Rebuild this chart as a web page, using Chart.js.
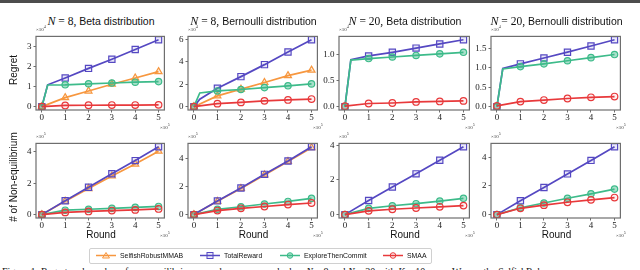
<!DOCTYPE html>
<html>
<head>
<meta charset="utf-8">
<script src="https://cdn.jsdelivr.net/npm/chart.js@4.4.1/dist/chart.umd.min.js"></script>
<style>
  body { margin: 0; width: 640px; height: 270px; background: #fff; position: relative; overflow: hidden; font-family: "Liberation Sans", sans-serif; }
  .topbar { position: absolute; left: 0; top: 0; width: 640px; height: 3px; background: #4d4d4d; }
  .panel { position: absolute; }
  .title { position: absolute; font-size: 10.5px; white-space: nowrap; transform: translateX(-50%); color: #111; }
  .title i { font-family: "Liberation Serif", serif; font-size: 12px; }
  .title .m { font-family: "Liberation Serif", serif; font-size: 11.5px; }
  .ylab { position: absolute; font-size: 10px; white-space: nowrap; transform: translate(-50%, -50%) rotate(-90deg); color: #111; }
  .xlab { position: absolute; font-size: 10px; line-height: 12px; transform: translateX(-50%); color: #111; }
  .mult { position: absolute; font-family: "Liberation Serif", serif; font-size: 5px; color: #333; white-space: nowrap; }
  .legend { position: absolute; left: 89px; top: 248px; width: 341px; height: 14px; border: 1px solid #d0d0d0; border-radius: 2px; font-size: 8px; color: #111; }
  .legend span.item { position: absolute; top: 2px; white-space: nowrap; }
  .legend span.txt { display: inline-block; transform: scaleX(0.86); transform-origin: left center; }
  .legend svg { vertical-align: middle; margin-right: 4px; }
  .caption { position: absolute; left: 2px; top: 266px; font-family: "Liberation Serif", serif; font-size: 10px; line-height: 12px; white-space: nowrap; color: #111; }
</style>
</head>
<body>
<div class="topbar"></div>

<script>
// x positions (x 10^5 rounds); the second array has the end of the exploration phase
const rounds = [0, 1, 2, 3, 4, 5];
const roundsKink = [0, 0.25, 1, 2, 3, 4, 5];
const xTicks = [0, 1, 2, 3, 4, 5];

const seriesNames = ['SelfishRobustMMAB', 'TotalReward', 'ExploreThenCommit', 'SMAA'];

// Regret, N = 8, Beta
const regretN8BetaSelfish = [0, 0.45, 0.78, 1.12, 1.43, 1.75];
const regretN8BetaTotal   = [0, 1.09, 1.43, 1.91, 2.37, 2.85, 3.34];
const regretN8BetaEtc     = [0, 1.08, 1.09, 1.14, 1.18, 1.22, 1.25];
const regretN8BetaSmaa    = [0, 0.06, 0.07, 0.08, 0.08, 0.09];
// Regret, N = 8, Bernoulli
const regretN8BernSelfish = [0, 0.96, 1.56, 2.16, 2.77, 3.26];
const regretN8BernTotal   = [0, 0.66, 1.64, 2.68, 3.75, 4.88, 5.97];
const regretN8BernEtc     = [0, 1.22, 1.40, 1.53, 1.70, 1.86, 2.03];
const regretN8BernSmaa    = [0, 0.27, 0.38, 0.52, 0.60, 0.68];
// Regret, N = 20, Beta
const regretN20BetaTotal  = [0, 0.90, 0.97, 1.04, 1.12, 1.20, 1.28];
const regretN20BetaEtc    = [0, 0.89, 0.92, 0.95, 0.98, 1.01, 1.04];
const regretN20BetaSmaa   = [0.01, 0.06, 0.07, 0.09, 0.10, 0.11];
// Regret, N = 20, Bernoulli
const regretN20BernTotal  = [0, 0.98, 1.10, 1.25, 1.40, 1.56, 1.72];
const regretN20BernEtc    = [0, 0.97, 1.03, 1.10, 1.18, 1.26, 1.34];
const regretN20BernSmaa   = [0.02, 0.13, 0.17, 0.21, 0.24, 0.26];

// Non-equilibrium rounds
const neqN8BetaSelfish = [0, 0.85, 1.66, 2.46, 3.22, 4.04];
const neqN8BetaTotal   = [0, 0.88, 1.74, 2.60, 3.44, 4.32];
const neqN8BetaEtc     = [0, 0.28, 0.34, 0.40, 0.46, 0.52];
const neqN8BetaSmaa    = [0, 0.14, 0.20, 0.26, 0.30, 0.36];
const neqN8BernSelfish = [0, 0.95, 1.87, 2.84, 3.80, 4.78];
const neqN8BernTotal   = [0, 0.98, 1.90, 2.88, 3.84, 4.85];
const neqN8BernEtc     = [0, 0.38, 0.56, 0.76, 0.94, 1.16];
const neqN8BernSmaa    = [0, 0.29, 0.45, 0.58, 0.72, 0.83];
const neqN20BetaTotal  = [0, 0.81, 1.59, 2.35, 3.13, 3.91];
const neqN20BetaEtc    = [0, 0.36, 0.51, 0.63, 0.78, 0.94];
const neqN20BetaSmaa   = [0, 0.22, 0.31, 0.38, 0.45, 0.52];
const neqN20BernTotal  = [0, 0.97, 1.89, 2.84, 3.78, 4.73];
const neqN20BernEtc    = [0, 0.48, 0.81, 1.14, 1.45, 1.78];
const neqN20BernSmaa   = [0, 0.44, 0.66, 0.86, 1.03, 1.19];

// y tick values per panel
const yTicksN8Beta   = [0, 1, 2, 3];
const yTicksN8Bern   = [0, 2, 4, 6];
const yTicksN20Beta  = [0, 0.5, 1.0];
const yTicksN20Bern  = [0, 0.5, 1.0, 1.5];
const yTicksNeq      = [0, 2, 4];

const styles = {
  SelfishRobustMMAB: { color: '#F7973F', fill: 'rgba(247,151,63,0.15)', point: 'triangle', r: 4, order: 3 },
  TotalReward:       { color: '#5548C2', fill: 'rgba(85,72,194,0.12)', point: 'rect', r: 4.4, order: 2 },
  ExploreThenCommit: { color: '#3DBB8A', fill: 'rgba(61,187,138,0.45)', point: 'circle', r: 3.2, order: 1 },
  SMAA:              { color: '#E8393B', fill: 'rgba(232,57,59,0.08)', point: 'circle', r: 3.3, order: 0 }
};

const cols = [[36, 166], [188, 319], [339, 471], [491, 622]];
const rowsY = [[31, 110], [138, 218]];

const panels = [
  { row: 0, col: 0, n: 8, dist: 'Beta', yTicks: yTicksN8Beta, dec: 0, series: [
    ['SelfishRobustMMAB', rounds, regretN8BetaSelfish], ['TotalReward', roundsKink, regretN8BetaTotal],
    ['ExploreThenCommit', roundsKink, regretN8BetaEtc], ['SMAA', rounds, regretN8BetaSmaa]] },
  { row: 0, col: 1, n: 8, dist: 'Bernoulli', yTicks: yTicksN8Bern, dec: 0, series: [
    ['SelfishRobustMMAB', rounds, regretN8BernSelfish], ['TotalReward', roundsKink, regretN8BernTotal],
    ['ExploreThenCommit', roundsKink, regretN8BernEtc], ['SMAA', rounds, regretN8BernSmaa]] },
  { row: 0, col: 2, n: 20, dist: 'Beta', yTicks: yTicksN20Beta, dec: 1, series: [
    ['TotalReward', roundsKink, regretN20BetaTotal], ['ExploreThenCommit', roundsKink, regretN20BetaEtc],
    ['SMAA', rounds, regretN20BetaSmaa]] },
  { row: 0, col: 3, n: 20, dist: 'Bernoulli', yTicks: yTicksN20Bern, dec: 1, series: [
    ['TotalReward', roundsKink, regretN20BernTotal], ['ExploreThenCommit', roundsKink, regretN20BernEtc],
    ['SMAA', rounds, regretN20BernSmaa]] },
  { row: 1, col: 0, yTicks: yTicksNeq, dec: 0, series: [
    ['SelfishRobustMMAB', rounds, neqN8BetaSelfish], ['TotalReward', rounds, neqN8BetaTotal],
    ['ExploreThenCommit', rounds, neqN8BetaEtc], ['SMAA', rounds, neqN8BetaSmaa]] },
  { row: 1, col: 1, yTicks: yTicksNeq, dec: 0, series: [
    ['SelfishRobustMMAB', rounds, neqN8BernSelfish], ['TotalReward', rounds, neqN8BernTotal],
    ['ExploreThenCommit', rounds, neqN8BernEtc], ['SMAA', rounds, neqN8BernSmaa]] },
  { row: 1, col: 2, yTicks: yTicksNeq, dec: 0, series: [
    ['TotalReward', rounds, neqN20BetaTotal], ['ExploreThenCommit', rounds, neqN20BetaEtc],
    ['SMAA', rounds, neqN20BetaSmaa]] },
  { row: 1, col: 3, yTicks: yTicksNeq, dec: 0, series: [
    ['TotalReward', rounds, neqN20BernTotal], ['ExploreThenCommit', rounds, neqN20BernEtc],
    ['SMAA', rounds, neqN20BernSmaa]] }
];

const frame = {
  id: 'frame',
  afterDraw(chart) {
    const a = chart.chartArea, ctx = chart.ctx;
    ctx.save();
    ctx.strokeStyle = '#6e6e6e';
    ctx.lineWidth = 1.2;
    ctx.strokeRect(a.left, a.top, a.right - a.left, a.bottom - a.top);
    ctx.restore();
  }
};

const AXW = 30, PADT = 2, PADR = 4, AXH = 16;

function addDiv(cls, html, x, y) {
  const d = document.createElement('div');
  d.className = cls;
  d.innerHTML = html;
  d.style.left = x + 'px';
  d.style.top = y + 'px';
  document.body.appendChild(d);
  return d;
}

panels.forEach(p => {
  const [pl, pr] = cols[p.col];
  const [pt, pb] = rowsY[p.row];
  const W = pr - pl + AXW + PADR, H = pb - pt + PADT + AXH;
  const wrap = document.createElement('div');
  wrap.className = 'panel';
  wrap.style.left = (pl - AXW) + 'px';
  wrap.style.top = (pt - PADT) + 'px';
  const cv = document.createElement('canvas');
  cv.width = W; cv.height = H;
  cv.style.width = W + 'px'; cv.style.height = H + 'px';
  wrap.appendChild(cv);
  document.body.appendChild(wrap);

  const all = p.series.flatMap(s => s[2]);
  const lo = Math.min(...all), hi = Math.max(...all), span = hi - lo;

  const datasets = p.series.map(([name, xs, ys]) => {
    const st = styles[name];
    return {
      label: name,
      data: ys.map((y, i) => ({ x: xs[i], y })),
      borderColor: st.color,
      backgroundColor: st.fill,
      borderWidth: 1.7,
      pointStyle: st.point,
      pointRadius: xs.map(x => Number.isInteger(x) ? st.r : 0),
      pointBorderWidth: 1.2,
      pointBorderColor: st.color,
      pointBackgroundColor: st.fill,
      tension: 0,
      fill: false,
      order: st.order
    };
  });

  new Chart(cv, {
    type: 'line',
    data: { datasets },
    options: {
      responsive: false,
      animation: false,
      devicePixelRatio: 1,
      layout: { padding: { top: PADT, right: PADR, left: 0, bottom: 0 } },
      plugins: { legend: { display: false }, tooltip: { enabled: false } },
      scales: {
        x: {
          type: 'linear', min: -0.25, max: 5.25,
          afterBuildTicks: s => { s.ticks = xTicks.map(v => ({ value: v })); },
          afterFit: s => { s.height = AXH; },
          grid: { drawOnChartArea: false, drawTicks: true, tickLength: 2.5, color: '#6e6e6e' },
          border: { display: false },
          ticks: { font: { family: 'Liberation Serif', size: 9 }, color: '#222', padding: 0, maxRotation: 0 }
        },
        y: {
          type: 'linear', min: lo - 0.05 * span, max: hi + 0.05 * span,
          afterBuildTicks: s => { s.ticks = p.yTicks.map(v => ({ value: v })); },
          afterFit: s => { s.width = AXW; },
          grid: { drawOnChartArea: false, drawTicks: true, tickLength: 2.5, color: '#6e6e6e' },
          border: { display: false },
          ticks: { font: { family: 'Liberation Serif', size: 9 }, color: '#222', padding: 2,
                   callback: v => v.toFixed(p.dec) }
        }
      }
    },
    plugins: [frame]
  });

  const cx = (pl + pr) / 2;
  if (p.row === 0) {
    addDiv('title', '<i>N</i><span class="m"> = ' + p.n + ',</span> ' + p.dist + ' distribution', cx, 14);
    addDiv('mult', '×10<sup style="font-size:4px">4</sup>', pl, pt - 7);
  } else {
    addDiv('xlab', 'Round', cx, pb + 11);
    addDiv('mult', '×10<sup style="font-size:4px">5</sup>', pl, pt - 7);
  }
  addDiv('mult', '×10<sup style="font-size:4px">5</sup>', pr - 6, pb + 12);
});

addDiv('ylab', 'Regret', 13, 70);
addDiv('ylab', '# of Non-equilibrium', 13, 177);

// legend
const leg = document.createElement('div');
leg.className = 'legend';
const legX = [6, 110, 190, 293];
seriesNames.forEach((name, i) => {
  const st = styles[name];
  let mark;
  if (st.point === 'triangle') mark = '<polygon points="10,1.5 13.5,7 6.5,7" fill="' + st.fill + '" stroke="' + st.color + '" stroke-width="1"/>';
  else if (st.point === 'rect') mark = '<rect x="7" y="1.5" width="6" height="6" fill="' + st.fill + '" stroke="' + st.color + '" stroke-width="1"/>';
  else mark = '<circle cx="10" cy="4.5" r="2.8" fill="' + st.fill + '" stroke="' + st.color + '" stroke-width="1"/>';
  const item = document.createElement('span');
  item.className = 'item';
  item.style.left = legX[i] + 'px';
  item.innerHTML = '<svg width="20" height="9"><line x1="0" y1="4.5" x2="20" y2="4.5" stroke="' + st.color + '" stroke-width="1.5"/>' + mark + '</svg><span class="txt">' + name + '</span>';
  leg.appendChild(item);
});
document.body.appendChild(leg);

addDiv('caption', 'Figure 1: Regret and number of non-equilibrium rounds versus round when <i>N</i> = 8 and <i>N</i> = 20 with <i>K</i> = 10 arms. We use the SelfishRob', 2, 266);
</script>
</body>
</html>
